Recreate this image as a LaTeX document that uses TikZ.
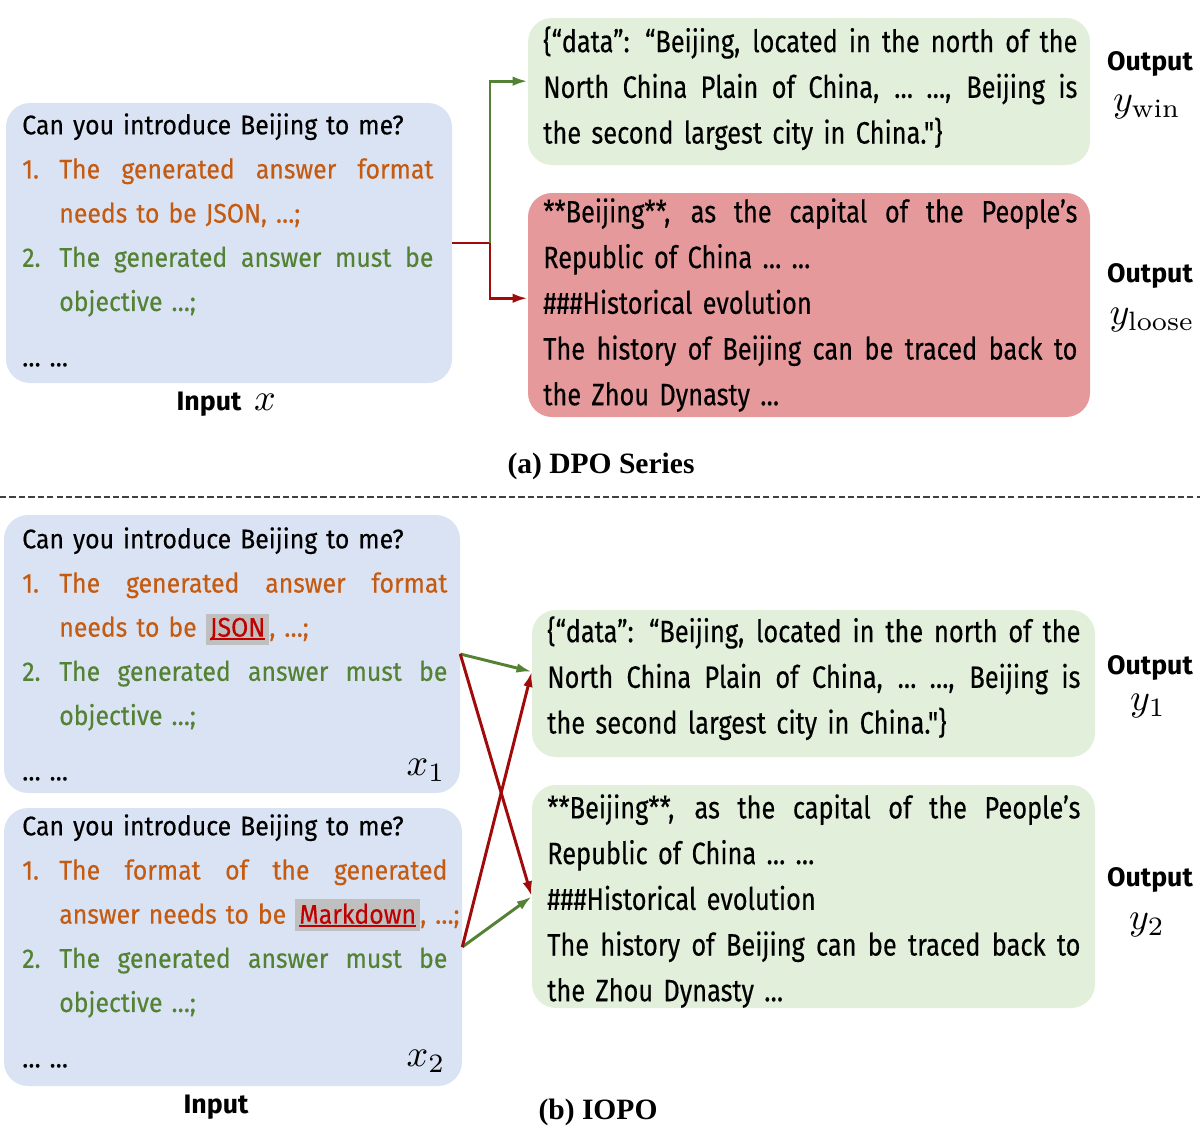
\documentclass[tikz,border=0pt]{standalone}
\usepackage{amsmath}
\usepackage{graphicx}
\usepackage{fontspec}
\usetikzlibrary{positioning,arrows.meta,fit,calc}
\newfontfamily\cmcin[FakeStretch=0.92,FakeBold=0.3]{Fira Sans}
\newfontfamily\cmcout[FakeStretch=0.82,FakeBold=0.3]{Fira Sans}
\newfontfamily\cmctag{Fira Sans}
\newfontfamily\capserif{Liberation Serif}
\definecolor{BoxBlue}{HTML}{DAE3F3}
\definecolor{BoxGreen}{HTML}{E2EFDA}
\definecolor{BoxRed}{HTML}{E6999A}
\definecolor{TextOrange}{HTML}{C55A11}
\definecolor{TextGreen}{HTML}{548235}
\definecolor{ArrGreen}{HTML}{548235}
\definecolor{ArrRed}{HTML}{A00A0A}
\definecolor{KeyRed}{HTML}{C00000}
\definecolor{HlGray}{HTML}{BFBFBF}
\newlength\numw
\setlength\numw{0.925cm}
\newlength\linew
\newlength\hlw
\newcommand{\infont}{\cmcin\fontsize{19.2pt}{31.4pt}\selectfont}
\newcommand{\outfont}{\cmcout\fontsize{22pt}{32.5pt}\selectfont}
\newcommand{\tagfont}{\cmctag\bfseries\fontsize{19pt}{22pt}\selectfont}
\newcommand{\capsfont}{\capserif\bfseries\fontsize{21pt}{24pt}\selectfont}
\newcommand{\bigmath}[1]{\scalebox{2.7}{$#1$}}
\newcommand{\fullline}[1]{{\spaceskip=\fontdimen2\font plus 1fil\makebox[\linew][s]{#1}}}
\newcommand{\numline}[2]{\makebox[\numw][l]{#1}{\spaceskip=\fontdimen2\font plus 1fil\makebox[\dimexpr\linew-\numw\relax][s]{#2}}}
\newcommand{\hangline}[1]{\hspace*{\numw}\mbox{#1}}
\newcommand{\hlword}[1]{\settowidth{\hlw}{#1}{\setlength{\fboxsep}{3pt}\colorbox{HlGray}{\color{KeyRed}\rlap{#1}\rule[-2.5pt]{\hlw}{1.2pt}}}}
\begin{document}
\begin{tikzpicture}[
  x=0.025cm, y=-0.025cm,
  inbox/.style={fill=BoxBlue,rounded corners=0.6cm,inner sep=0pt},
  okbox/.style={fill=BoxGreen,rounded corners=0.6cm,inner sep=0pt},
  badbox/.style={fill=BoxRed,rounded corners=0.6cm,inner sep=0pt},
  intext/.style={anchor=north west,inner sep=0pt,align=left,font=\infont,
    text width=#1,execute at begin node={\setlength{\linew}{#1}}},
  outtext/.style={anchor=north west,inner sep=0pt,align=left,font=\outfont,
    text width=#1,execute at begin node={\setlength{\linew}{#1}}},
  tag/.style={inner sep=0pt,font=\tagfont},
  ymath/.style={inner sep=0pt},
  caption/.style={inner sep=0pt,font=\capsfont},
  sepline/.style={draw=black!75,line width=0.9pt,dash pattern=on 4.5pt off 2.2pt},
  rline/.style={draw=ArrRed,line width=2.1pt},
  garr/.style={draw=ArrGreen,line width=2.1pt,-{Latex[length=3.8mm,width=2.4mm]}},
  rarr/.style={draw=ArrRed,line width=2.1pt,-{Latex[length=3.8mm,width=2.4mm]}}
]
\useasboundingbox (0,0) rectangle (1200,1143);

% (a) DPO series
\node[inbox,fit={(6,103) (452,383)}] (inA) {};
\node[intext=10.275cm] (inAtxt) at (22,113) {%
Can you introduce Beijing to me?\\
\textcolor{TextOrange}{\numline{1.}{The generated answer format}}\\
\textcolor{TextOrange}{\hangline{needs to be JSON, …;}}\\
\textcolor{TextGreen}{\numline{2.}{The generated answer must be}}\\
\textcolor{TextGreen}{\hangline{objective …;}}\\[8pt]
… …};
\node[tag] (inAlab) at (209,404) {Input};
\node[ymath] (xlab) at (265,402) {\bigmath{x}};

\node[okbox,fit={(528,18) (1090,165)}] (winA) {};
\node[outtext=13.35cm] (winAtxt) at (543,26) {%
\fullline{\{“data”: “Beijing, located in the north of the}\\
\fullline{North China Plain of China, … …, Beijing is}\\
the second largest city in China."\}};
\node[badbox,fit={(528,193) (1090,417)}] (looseA) {};
\node[outtext=13.35cm] (looseAtxt) at (543,198) {%
\fullline{**Beijing**, as the capital of the People’s}\\
Republic of China … …\\
\#\#\#Historical evolution\\
\fullline{The history of Beijing can be traced back to}\\
the Zhou Dynasty …};

\node[tag] (outA1) at (1150,64) {Output};
\node[ymath] (ywin) at (1147,107) {\bigmath{y_{\mathrm{win}}}};
\node[tag] (outA2) at (1150,276) {Output};
\node[ymath] (yloose) at (1152,320) {\bigmath{y_{\mathrm{loose}}}};

\coordinate (splitA) at (490,243);
\draw[rline] (inA.east) -- (splitA);
\draw[garr] (splitA) |- ($(winA.north west)!0.43!(winA.south west)$);
\draw[rarr] (splitA) |- ($(looseA.north west)!0.47!(looseA.south west)$);

\node[caption] (capA) at (601,466) {(a) DPO Series};
\coordinate (sepL) at (0,497);
\coordinate (sepR) at (1200,497);
\draw[sepline] (sepL) -- (sepR);

% (b) IOPO
\node[inbox,fit={(4,515) (460,793)}] (inB1) {};
\node[intext=10.625cm] (inB1txt) at (22,527) {%
Can you introduce Beijing to me?\\
\textcolor{TextOrange}{\numline{1.}{The generated answer format}}\\
\textcolor{TextOrange}{\hangline{needs to be \hlword{JSON}, …;}}\\
\textcolor{TextGreen}{\numline{2.}{The generated answer must be}}\\
\textcolor{TextGreen}{\hangline{objective …;}}\\[8pt]
… …};
\node[ymath] (x1lab) at (426,770) {\bigmath{x_1}};

\node[inbox,fit={(4,808) (462,1086)}] (inB2) {};
\node[intext=10.625cm] (inB2txt) at (22,814) {%
Can you introduce Beijing to me?\\
\textcolor{TextOrange}{\numline{1.}{The format of the generated}}\\
\textcolor{TextOrange}{\hangline{answer needs to be \hlword{Markdown}, …;}}\\
\textcolor{TextGreen}{\numline{2.}{The generated answer must be}}\\
\textcolor{TextGreen}{\hangline{objective …;}}\\[8pt]
… …};
\node[ymath] (x2lab) at (426,1061) {\bigmath{x_2}};
\node[tag] (inBlab) at (216,1107) {Input};

\node[okbox,fit={(532,610) (1095,757)}] (y1box) {};
\node[outtext=13.325cm] (y1txt) at (547,616) {%
\fullline{\{“data”: “Beijing, located in the north of the}\\
\fullline{North China Plain of China, … …, Beijing is}\\
the second largest city in China."\}};
\node[okbox,fit={(532,785) (1095,1008)}] (y2box) {};
\node[outtext=13.325cm] (y2txt) at (547,794) {%
\fullline{**Beijing**, as the capital of the People’s}\\
Republic of China … …\\
\#\#\#Historical evolution\\
\fullline{The history of Beijing can be traced back to}\\
the Zhou Dynasty …};

\node[tag] (outB1) at (1150,668) {Output};
\node[ymath] (y1lab) at (1148,706) {\bigmath{y_1}};
\node[tag] (outB2) at (1150,880) {Output};
\node[ymath] (y2lab) at (1147,925) {\bigmath{y_2}};

\coordinate (y1in) at ($(y1box.north west)!0.42!(y1box.south west)$);
\draw[garr] (inB1.east) -- (y1in);
\draw[rarr] (inB1.east) -- (y2box.west);
\draw[garr] (inB2.east) -- (y2box.west);
\draw[rarr] (inB2.east) -- (y1in);

\node[caption] (capB) at (598,1112) {(b) IOPO};
\end{tikzpicture}
\end{document}
